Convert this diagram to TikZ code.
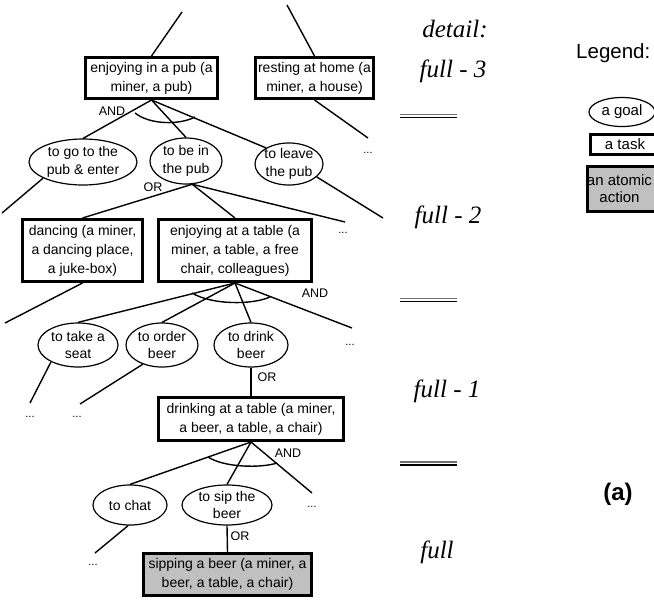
\documentclass[tikz,border=0pt]{standalone}
\usepackage{fontspec}
\setmainfont{Liberation Sans}
\newfontfamily\detailfont{Liberation Serif}
\usetikzlibrary{shapes.geometric}
\definecolor{actgray}{HTML}{C0C0C0}
\definecolor{sepgray}{HTML}{707070}
\begin{document}
\begin{tikzpicture}[x=1pt,y=-1pt,
  txt/.style={font=\fontsize{14}{19}\selectfont, align=center},
  gtxt/.style={font=\fontsize{14}{17.5}\selectfont, align=center, inner sep=0pt},
  task/.style={draw, line width=3pt, inner sep=0pt, txt},
  atomic/.style={task, fill=actgray},
  goal/.style={draw, ellipse, line width=1.2pt, inner sep=0pt},
  conn/.style={line width=1.4pt},
  andarc/.style={line width=1.4pt},
  lbl/.style={font=\fontsize{12.5}{12.5}\selectfont, inner sep=0pt},
  dots/.style={font=\fontsize{11}{11}\selectfont, inner sep=0pt, anchor=base},
  lvl/.style={font=\detailfont\itshape\fontsize{25}{25}\selectfont, inner sep=0pt, anchor=base},
  sepA/.style={line width=1.1pt, sepgray},
  sepB/.style={line width=1.5pt, black},
  legtxt/.style={font=\fontsize{15}{17}\selectfont, align=center}
]
\useasboundingbox (0,0) rectangle (654,600);
\clip (0,0) rectangle (654,600);

% ---------- tasks ----------
\node[task, minimum width=132pt, minimum height=41pt] (pub) at (151.5,78) {enjoying in a pub (a\\miner, a pub)};
\node[task, minimum width=118pt, minimum height=41pt] (home) at (314.5,78) {resting at home (a\\miner, a house)};
\node[task, minimum width=120pt, minimum height=62pt] (dancing) at (82.5,250.5) {dancing (a miner,\\a dancing place,\\a juke-box)};
\node[task, minimum width=153pt, minimum height=62pt] (table) at (235,250.5) {enjoying at a table (a\\miner, a table, a free\\chair, colleagues)};
\node[task, minimum width=185pt, minimum height=43pt] (drinking) at (251,419) {drinking at a table (a miner,\\a beer, a table, a chair)};
\node[atomic, minimum width=168pt, minimum height=42pt] (sipping) at (227.5,574.5) {sipping a beer (a miner, a\\beer, a table, a chair)};

% ---------- goals ----------
\node[goal, minimum width=108pt, minimum height=46pt, label={[gtxt]center:to go to the\\pub \& enter}] (go) at (83,162) {};
\node[goal, minimum width=72pt, minimum height=46pt, label={[gtxt]center:to be in\\the pub}] (bein) at (186,161) {};
\node[goal, minimum width=68pt, minimum height=42pt, label={[gtxt]center:to leave\\the pub}] (leave) at (289,164) {};
\node[goal, minimum width=80pt, minimum height=44pt, label={[gtxt]center:to take a\\seat}] (seat) at (78,345) {};
\node[goal, minimum width=72pt, minimum height=44pt, label={[gtxt]center:to order\\beer}] (order) at (162,345) {};
\node[goal, minimum width=74pt, minimum height=44pt, label={[gtxt]center:to drink\\beer}] (drink) at (251,345) {};
\node[goal, minimum width=74pt, minimum height=40pt, label={[gtxt]center:to chat}] (chat) at (130,505) {};
\node[goal, minimum width=90pt, minimum height=40pt, label={[gtxt]center:to sip the\\beer}] (sip) at (227,505) {};

% ---------- free ends ----------
\coordinate (t1) at (182,12);
\coordinate (t2) at (287,5);
\coordinate (e1) at (368,138);
\coordinate (e2) at (2,213);
\coordinate (e3) at (383,218);
\coordinate (e4) at (345,222);
\coordinate (e5) at (5,323);
\coordinate (e6) at (352,328);
\coordinate (e7) at (30,403);
\coordinate (e8) at (80,404);
\coordinate (e9) at (312,493);
\coordinate (e10) at (95,553);

% ---------- connectors ----------
\draw[conn] (t1) -- (pub.north);
\draw[conn] (t2) -- (home.north);
\draw[conn] (home.south) -- (e1);
\draw[conn] (pub.south) -- (go.north);
\draw[conn] (pub.south) -- (bein.north);
\draw[conn] (pub.south) -- (leave.145);
\draw[conn] (go.-158) -- (e2);
\draw[conn] (leave.-25) -- (e3);
\draw[conn] (bein.-75) -- (dancing.north);
\draw[conn] (bein.-75) -- (table.north);
\draw[conn] (bein.-75) -- (e4);
\draw[conn] (dancing.south) -- (e5);
\draw[conn] (table.south) -- (seat.north);
\draw[conn] (table.south) -- (order.north);
\draw[conn] (table.south) -- (drink.north);
\draw[conn] (table.south) -- (e6);
\draw[conn] (seat.-148) -- (e7);
\draw[conn] (order.-135) -- (e8);
\draw[conn] (drink.south) -- (drinking.north);
\draw[conn] (drinking.south) -- (chat.north);
\draw[conn] (drinking.south) -- (sip.north);
\draw[conn] (drinking.south) -- (e9);
\draw[conn] (chat.-95) -- (e10);
\draw[conn] (sip.south) -- (sipping.north);

% ---------- AND arcs ----------
\draw[andarc] (135,113) .. controls (150,125) and (180,125) .. (195,117);
\draw[andarc] (192,293) .. controls (212,305) and (252,305) .. (270,297);
\draw[andarc] (208,457) .. controls (225,468) and (262,468) .. (277,463);

% ---------- AND / OR labels ----------
\node[lbl] (and1) at (112,111) {AND};
\node[lbl] (or1) at (153,187) {OR};
\node[lbl] (and2) at (315,293) {AND};
\node[lbl] (or2) at (267,377) {OR};
\node[lbl] (and3) at (288,453) {AND};
\node[lbl] (or3) at (240,536) {OR};

% ---------- dots ----------
\node[dots] (d1) at (368,153) {...};
\node[dots] (d2) at (343,233) {...};
\node[dots] (d3) at (350,345) {...};
\node[dots] (d4) at (30,417) {...};
\node[dots] (d5) at (77,417) {...};
\node[dots] (d6) at (312,507) {...};
\node[dots] (d7) at (93,565) {...};

% ---------- detail levels ----------
\node[lvl] (det) at (455,37) {detail:};
\node[lvl] (f3) at (453,77) {full - 3};
\node[lvl] (f2) at (448,223) {full - 2};
\node[lvl] (f1) at (447,397) {full - 1};
\node[lvl] (f0) at (437,558) {full};
\draw[sepA] (400,114.5) -- (457,114.5);
\draw[sepB] (400,117.5) -- (457,117.5);
\draw[sepA] (400,298.5) -- (457,298.5);
\draw[sepB] (400,301.5) -- (457,301.5);
\draw[sepA] (400,462) -- (457,462);
\draw[sepB] (400,465) -- (457,465);

% ---------- legend ----------
\node[font=\fontsize{20.5}{21}\selectfont, inner sep=0pt, anchor=base west] (legend) at (576,58) {Legend:};
\node[goal, minimum width=66pt, minimum height=29pt, label={[legtxt, inner sep=0pt]center:a goal}] (lgoal) at (622,112) {};
\node[draw, line width=3pt, inner sep=0pt, minimum width=70pt, minimum height=20pt, legtxt] (ltask) at (625,144) {a task};
\node[draw, line width=3pt, fill=actgray, inner sep=0pt, minimum width=74pt, minimum height=45pt, label={[legtxt, inner sep=0pt, xshift=-4.5pt]center:an atomic\\action}] (latomic) at (624,189) {};

\node[font=\bfseries\fontsize{24}{24}\selectfont, inner sep=0pt, anchor=base] (caption) at (618,500) {(a)};
\end{tikzpicture}
\end{document}
